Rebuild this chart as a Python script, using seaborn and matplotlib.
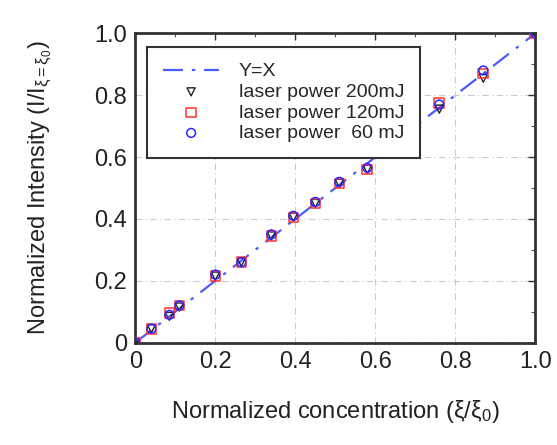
import numpy as np
import pandas as pd
import matplotlib
matplotlib.use("Agg")
import matplotlib.pyplot as plt
import seaborn as sns

# values
conc = [0.0, 0.04, 0.085, 0.11, 0.2, 0.265, 0.34, 0.395, 0.45, 0.51, 0.58, 0.76, 0.87, 1.0]
power_200 = [0.0, 0.045, 0.085, 0.115, 0.215, 0.26, 0.345, 0.405, 0.45, 0.515, 0.56, 0.755, 0.855, 1.0]
power_120 = [0.0, 0.045, 0.095, 0.12, 0.215, 0.26, 0.345, 0.405, 0.45, 0.515, 0.56, 0.775, 0.87, 1.0]
power_60 = [0.0, 0.045, 0.09, 0.12, 0.22, 0.26, 0.35, 0.41, 0.455, 0.52, 0.565, 0.77, 0.88, 1.0]
ideal = [0.0, 1.0]
ticks = [0, 0.2, 0.4, 0.6, 0.8, 1.0]
tick_labels = ["0", "0.2", "0.4", "0.6", "0.8", "1.0"]

sns.set_style("white")
plt.rcParams["font.family"] = ["Liberation Sans", "DejaVu Sans"]
plt.rcParams["mathtext.fontset"] = "custom"
plt.rcParams["mathtext.rm"] = "Liberation Sans"
plt.rcParams["mathtext.it"] = "Liberation Sans"

fig = plt.figure(figsize=(5.57, 4.45), dpi=100)
ax = fig.add_axes([0.243, 0.23, 0.718, 0.695])

sns.lineplot(x=ideal, y=ideal, ax=ax, color="#4a5cff", lw=1.6,
             dashes=False, linestyle=(0, (9, 4, 1.5, 4)), label="Y=X", zorder=2)
sns.scatterplot(x=conc, y=power_200, ax=ax, marker="v", s=34, facecolor="none",
                edgecolor="#222222", linewidth=1.0, label="laser power 200mJ", zorder=3)
sns.scatterplot(x=conc, y=power_120, ax=ax, marker="s", s=48, facecolor="none",
                edgecolor="#ff3030", linewidth=1.1, label="laser power 120mJ", zorder=3)
sns.scatterplot(x=conc, y=power_60, ax=ax, marker="o", s=40, facecolor="none",
                edgecolor="#2828ff", linewidth=1.1, label="laser power  60 mJ", zorder=4)

ax.set_xlim(0, 1)
ax.set_ylim(0, 1)
ax.set_xticks(ticks)
ax.set_xticklabels(tick_labels)
ax.set_yticks(ticks)
ax.set_yticklabels(tick_labels)
ax.set_xticks(np.arange(0.1, 1.0, 0.2), minor=True)
ax.set_yticks(np.arange(0.1, 1.0, 0.2), minor=True)
ax.tick_params(axis="both", which="major", direction="in", length=5, width=1,
               labelsize=17, pad=6, top=True, right=True, colors="#333333",
               labelcolor="#222222")
ax.tick_params(axis="both", which="minor", direction="in", length=3, width=0.8,
               top=True, right=True, colors="#555555")
ax.grid(True, which="major", color="#cccccc", linestyle=(0, (6, 3, 1, 3)), lw=0.8)
for sp in ax.spines.values():
    sp.set_visible(True)
    sp.set_color("#333333")
    sp.set_linewidth(2)

ax.set_xlabel("Normalized concentration ($\\mathrm{\\xi/\\xi_0}$)", fontsize=17,
              labelpad=18, color="#222222")
ax.set_ylabel("Normalized Intensity ($\\mathrm{I/I_{\\xi=\\xi_0}}$)", fontsize=17,
              labelpad=28, color="#222222")

leg = ax.legend(loc="upper left", bbox_to_anchor=(0.03, 0.955), fontsize=14,
                frameon=True, fancybox=False, framealpha=1, edgecolor="#333333",
                handlelength=2.9, handletextpad=1.0, borderpad=0.8, labelspacing=0.15,
                borderaxespad=0)
leg.get_frame().set_linewidth(1.5)

fig.savefig("out.png", dpi=100)
